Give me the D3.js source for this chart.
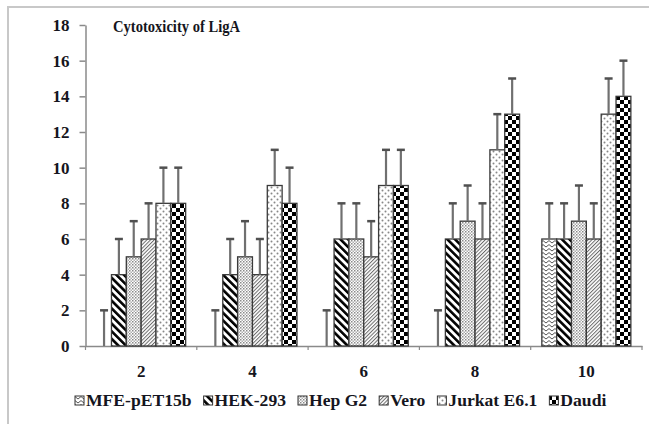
<!DOCTYPE html>
<html>
<head>
<meta charset="utf-8">
<script src="https://cdn.jsdelivr.net/npm/d3@7"></script>
<style>
body{margin:0;background:#fff}
</style>
</head>
<body>
<svg width="649" height="424" font-family="Liberation Serif"></svg>
<script>
const doses=["2","4","6","8","10"]
const cellLines=["MFE-pET15b","HEK-293","Hep G2","Vero","Jurkat E6.1","Daudi"]
const mfe=[0,0,0,0,6]
const hek=[4,4,6,6,6]
const hepg2=[5,5,6,7,7]
const vero=[6,4,5,6,6]
const jurkat=[8,9,9,11,13]
const daudi=[8,8,9,13,14]
const sd=[2,2,2,2,2]
const yTicks=[0,2,4,6,8,10,12,14,16,18]

const series=[mfe,hek,hepg2,vero,jurkat,daudi]
const svg=d3.select("svg")
const defs=svg.append("defs")
txt=(sel,size)=>sel.attr("font-family","Liberation Serif").attr("font-weight","bold").attr("font-size",size).attr("fill","#151520")

// fill patterns, one per cell line
pat=(id,w,h,rot)=>{
let p=defs.append("pattern").attr("id",id).attr("patternUnits","userSpaceOnUse").attr("width",w).attr("height",h)
if(rot)p.attr("patternTransform","rotate("+rot+")")
p.append("rect").attr("width",w).attr("height",h).attr("fill","#fff")
return p
}
let p0=pat("p0",6,4)
p0.append("path").attr("d","M0,3 L3,0.6 L6,3").attr("fill","none").attr("stroke","#555").attr("stroke-width",1)
let p1=pat("p1",5.4,5.4,-45)
p1.append("rect").attr("width",2.6).attr("height",5.4).attr("fill","#000")
let p2=pat("p2",3,3)
p2.append("rect").attr("width",1.5).attr("height",1.5).attr("fill","#8a8a8a")
p2.append("rect").attr("x",1.5).attr("y",1.5).attr("width",1.5).attr("height",1.5).attr("fill","#b0b0b0")
let p3=pat("p3",2.6,2.6,45)
p3.append("rect").attr("width",1).attr("height",2.6).attr("fill","#6a6a6a")
let p4=pat("p4",6,6)
p4.append("circle").attr("cx",1.5).attr("cy",1.5).attr("r",1).attr("fill","#888")
p4.append("circle").attr("cx",4.5).attr("cy",4.5).attr("r",1).attr("fill","#888")
let p5=pat("p5",8,8)
p5.append("rect").attr("width",4).attr("height",4).attr("fill","#000")
p5.append("rect").attr("x",4).attr("y",4).attr("width",4).attr("height",4).attr("fill","#000")

// outer frame (only top and left show)
svg.append("path").attr("d","M8,424 L8,7 L649,7").attr("fill","none").attr("stroke","#c8c8c8").attr("stroke-width",2)

const x0=d3.scaleBand().domain(doses).range([85.5,642])
const bw=x0.bandwidth()
const x1=d3.scaleBand().domain(d3.range(cellLines.length)).range([bw*0.1,bw*0.9])
const y=d3.scaleLinear().domain([0,18]).range([346,25])

let ya=svg.append("g").attr("transform","translate(85.5,0)")
.call(d3.axisLeft(y).tickValues(yTicks).tickSize(6).tickSizeOuter(0).tickPadding(10))
ya.attr("font-family","Liberation Serif")
txt(ya.selectAll("text"),17)
ya.selectAll("line,path").attr("stroke","#8a8a8a").attr("stroke-width",1.5)

let xa=svg.append("g").attr("transform","translate(0,346)")
.call(d3.axisBottom(x0).tickSize(0).tickSizeOuter(0).tickPadding(19))
xa.attr("font-family","Liberation Serif")
txt(xa.selectAll("text"),17)
xa.select(".domain").attr("stroke","#8a8a8a").attr("stroke-width",1.5)
xa.selectAll(".tick line").remove()
// ticks sit on the group borders
let edge=(d,i)=>i<doses.length?x0(d):x0(doses[i-1])+bw
xa.selectAll(".bt").data(doses.concat(["end"])).join("line").attr("class","bt")
.attr("x1",edge).attr("x2",edge)
.attr("y1",0).attr("y2",4).attr("stroke","#8a8a8a").attr("stroke-width",1.2)

const g=svg.append("g")
series.forEach((s,k)=>{
let gs=g.append("g")
gs.selectAll("rect").data(s).join("rect")
.attr("x",(d,i)=>x0(doses[i])+x1(k)).attr("width",x1.bandwidth())
.attr("y",d=>y(d)).attr("height",d=>y(0)-y(d))
.attr("fill","url(#p"+k+")").attr("stroke",d=>d>0?"#3a3a3a":"none").attr("stroke-width",1.3)
let cx=(i)=>x0(doses[i])+x1(k)+x1.bandwidth()/2
gs.selectAll(".eb").data(s).join("line").attr("class","eb")
.attr("x1",(d,i)=>cx(i)).attr("x2",(d,i)=>cx(i))
.attr("y1",d=>y(d)).attr("y2",(d,i)=>y(d+sd[i]))
.attr("stroke","#707070").attr("stroke-width",2.2)
gs.selectAll(".cap").data(s).join("line").attr("class","cap")
.attr("x1",(d,i)=>cx(i)-4).attr("x2",(d,i)=>cx(i)+4)
.attr("y1",(d,i)=>y(d+sd[i])).attr("y2",(d,i)=>y(d+sd[i]))
.attr("stroke","#505050").attr("stroke-width",2.5)
})

txt(svg.append("text").attr("x",113).attr("y",32),16)
.attr("textLength",127).attr("lengthAdjust","spacingAndGlyphs").text("Cytotoxicity of LigA")

// legend
let lx=75
const lg=svg.append("g")
cellLines.forEach((c,k)=>{
lg.append("rect").attr("x",lx).attr("y",396).attr("width",9).attr("height",9)
.attr("fill","url(#p"+k+")").attr("stroke","#333").attr("stroke-width",1)
let t=txt(lg.append("text").attr("x",lx+11).attr("y",406),16).text(c)
let w=t.node().getComputedTextLength()*1.1
t.attr("textLength",w).attr("lengthAdjust","spacingAndGlyphs")
lx+=11+w+12
})
</script>
</body>
</html>
